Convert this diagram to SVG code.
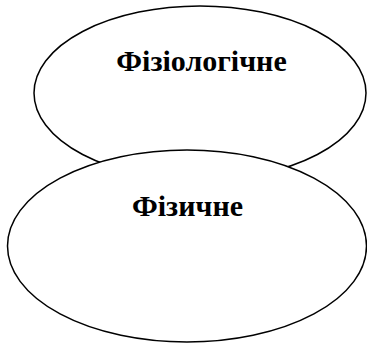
<svg xmlns="http://www.w3.org/2000/svg" width="367" height="344" viewBox="0 0 367 344">
<style>
.node ellipse{fill:#fff;stroke:#000;stroke-width:1.5}
.node text{font-family:"Liberation Serif","Times New Roman",serif;font-weight:bold;font-size:30px;text-anchor:middle;fill:#000}
</style>
<rect width="367" height="344" fill="#fff"/>
<g id="connectors"></g>
<g id="node-fiziologichne" class="node">
<ellipse cx="200" cy="93" rx="166" ry="87"/>
<text x="201.5" y="71">Фізіологічне</text>
</g>
<g id="node-fizychne" class="node">
<ellipse cx="187" cy="246" rx="179.5" ry="96"/>
<text x="187.5" y="215.5">Фізичне</text>
</g>
</svg>
